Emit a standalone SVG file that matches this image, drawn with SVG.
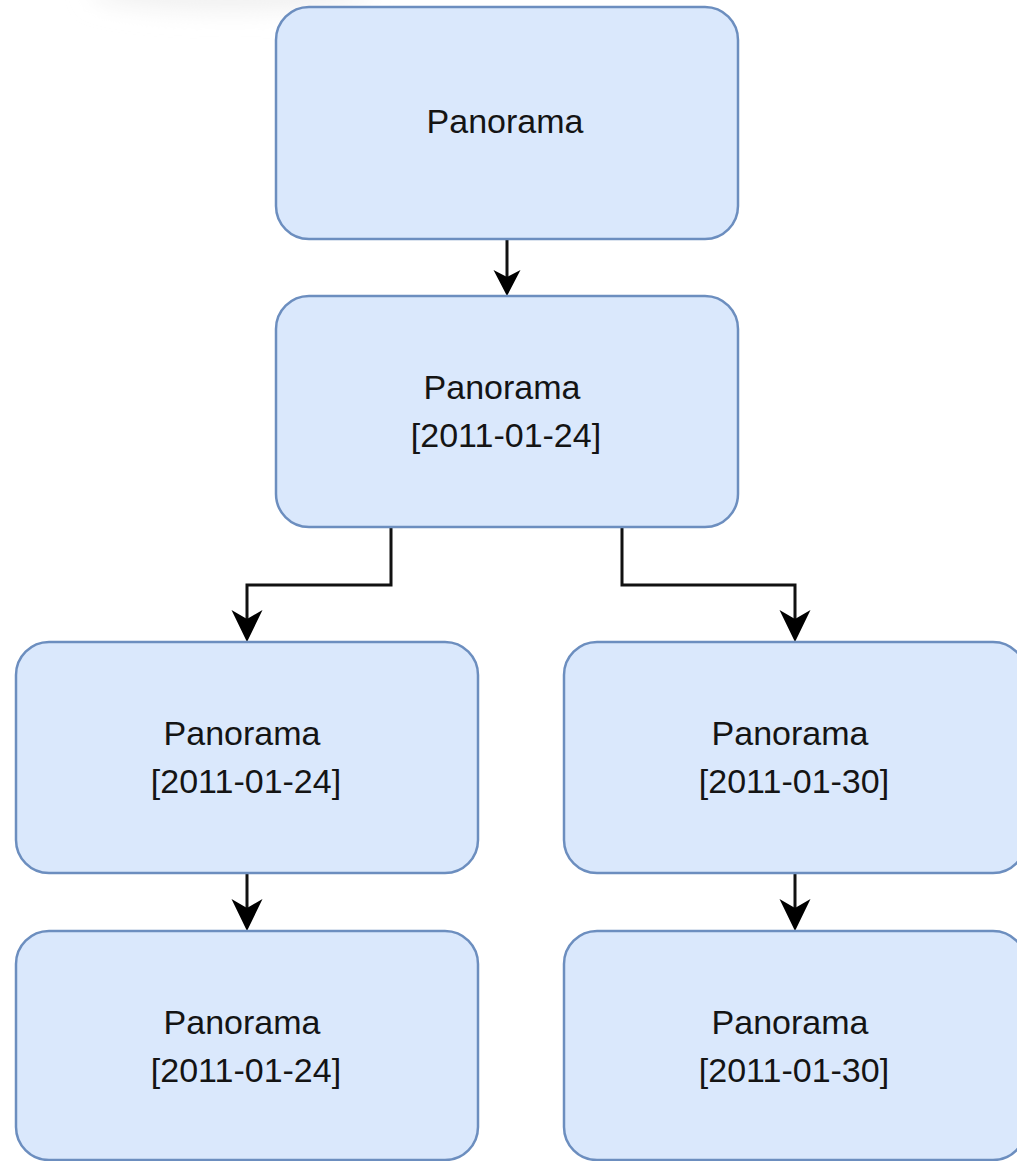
<svg xmlns="http://www.w3.org/2000/svg" width="1017" height="1161" viewBox="0 0 1017 1161">
  <style>
    .box { fill: #dae8fc; stroke: #6c8ebf; stroke-width: 2.5; }
    .label { font-family: "Liberation Sans", Arial, sans-serif; font-size: 34px; fill: #141414; text-anchor: middle; }
    .edge { fill: none; stroke: #111; stroke-width: 3; }
    .head { fill: #000; stroke: none; }
  </style>
  <defs>
    <filter id="haze" x="-50%" y="-200%" width="200%" height="500%">
      <feGaussianBlur stdDeviation="12"/>
    </filter>
  </defs>

  <rect width="1017" height="1161" fill="#ffffff"/>
  <!-- faint shading along the top edge -->
  <ellipse cx="230" cy="-8" rx="140" ry="18" fill="#f0f0f0" filter="url(#haze)"/>

  <g id="connectors">
    <!-- top to second -->
    <line class="edge" x1="507" y1="239" x2="507" y2="280"/>
    <path class="head" d="M507 296 L493.5 270 L507 277 L520.5 270 Z"/>
    <!-- second to left branch -->
    <polyline class="edge" points="391,527 391,585 247,585 247,625"/>
    <path class="head" d="M247 642 L231.5 610 L247 619 L262.5 610 Z"/>
    <!-- second to right branch -->
    <polyline class="edge" points="622,527 622,585 795,585 795,625"/>
    <path class="head" d="M795 642 L779.5 610 L795 619 L810.5 610 Z"/>
    <!-- left branch down -->
    <line class="edge" x1="247" y1="873" x2="247" y2="914"/>
    <path class="head" d="M247 931 L231.5 899 L247 908 L262.5 899 Z"/>
    <!-- right branch down -->
    <line class="edge" x1="795" y1="873" x2="795" y2="914"/>
    <path class="head" d="M795 931 L779.5 899 L795 908 L810.5 899 Z"/>
  </g>

  <g id="node-root">
    <rect class="box" x="276" y="7" width="462" height="232" rx="33" ry="33"/>
    <text class="label" x="505" y="133">Panorama</text>
  </g>

  <g id="node-mid">
    <rect class="box" x="276" y="296" width="462" height="231" rx="33" ry="33"/>
    <text class="label" x="502" y="399">Panorama</text>
    <text class="label" x="506" y="447">[2011-01-24]</text>
  </g>

  <g id="node-left-1">
    <rect class="box" x="16" y="642" width="462" height="231" rx="33" ry="33"/>
    <text class="label" x="242" y="745">Panorama</text>
    <text class="label" x="246" y="793">[2011-01-24]</text>
  </g>

  <g id="node-right-1">
    <rect class="box" x="564" y="642" width="462" height="231" rx="33" ry="33"/>
    <text class="label" x="790" y="745">Panorama</text>
    <text class="label" x="794" y="793">[2011-01-30]</text>
  </g>

  <g id="node-left-2">
    <rect class="box" x="16" y="931" width="462" height="229" rx="33" ry="33"/>
    <text class="label" x="242" y="1034">Panorama</text>
    <text class="label" x="246" y="1082">[2011-01-24]</text>
  </g>

  <g id="node-right-2">
    <rect class="box" x="564" y="931" width="462" height="229" rx="33" ry="33"/>
    <text class="label" x="790" y="1034">Panorama</text>
    <text class="label" x="794" y="1082">[2011-01-30]</text>
  </g>
</svg>
